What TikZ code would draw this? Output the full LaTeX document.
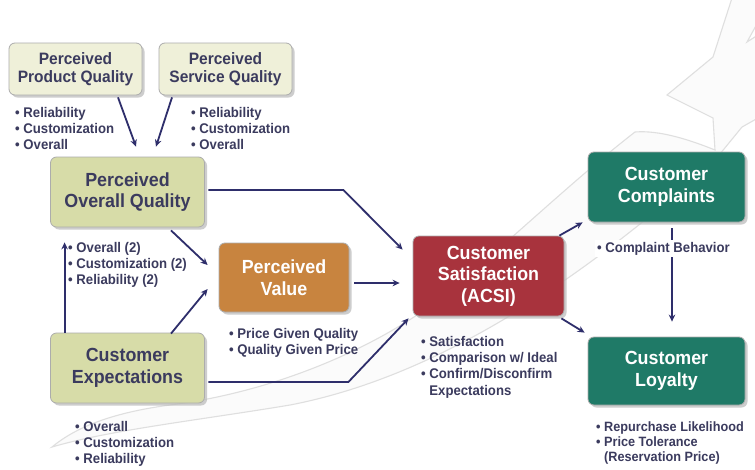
\documentclass[tikz,border=0pt]{standalone}
\usepackage{fontspec}
\setmainfont{Liberation Sans}[FakeStretch=0.94]
\usetikzlibrary{arrows.meta,shadows}
\definecolor{txt}{HTML}{3B3B5E}
\definecolor{arr}{HTML}{2E2E6B}
\definecolor{cream}{HTML}{EFF0D9}
\definecolor{olive}{HTML}{D7DCA8}
\definecolor{orng}{HTML}{C8843F}
\definecolor{redbox}{HTML}{A8333D}
\definecolor{grnbox}{HTML}{1F7A67}
\newcommand{\bl}{\textbullet\ }
\tikzset{
  box/.style={draw=gray!65, line width=0.8pt, rounded corners=6pt, align=center,
    inner sep=2pt, drop shadow={shadow xshift=2.5pt, shadow yshift=-2.5pt, fill=gray!55, opacity=0.7}},
  smallbox/.style={box, fill=cream, text=txt, font=\fontsize{16.5}{18.5}\selectfont\bfseries,
    minimum width=133pt, minimum height=52pt},
  bigbox/.style={box, font=\fontsize{19}{21.5}\selectfont\bfseries, minimum width=154pt, minimum height=70pt},
  lbl/.style={anchor=north west, align=left, inner sep=0pt, text=txt,
    font=\fontsize{14}{16.3}\selectfont\bfseries},
  conn/.style={draw=arr, line width=1.8pt, -{Stealth[length=7pt,width=6.5pt]}},
  bg/.style={fill=gray!3, draw=gray!25, line width=1.1pt}
}
\begin{document}
\begin{tikzpicture}[x=1pt,y=-1pt]
\useasboundingbox (0,0) rectangle (755,469);
\fill[white] (0,0) rectangle (755,469);
% background shooting star
\draw[bg] (635,132) .. controls (560,190) and (470,280) .. (414,317)
  .. controls (340,365) and (250,395) .. (170,405)
  .. controls (110,413) and (75,428) .. (52,447)
  .. controls (110,430) and (200,420) .. (290,405)
  .. controls (420,380) and (560,300) .. (715,160)
  -- (742,127) -- (758,118) -- (758,35) -- (747,42) -- (758,22) -- (758,-2)
  -- (732,-2) -- (713,57) -- (667,95) -- (713,118) -- (715,150)
  .. controls (690,140) and (660,130) .. (635,132);
% boxes
\node[smallbox] (ppq) at (75.5,69) {Perceived\\Product Quality};
\node[smallbox] (psq) at (225.5,69) {Perceived\\Service Quality};
\node[bigbox, fill=olive, text=txt] (poq) at (127.5,192) {Perceived\\Overall Quality};
\node[bigbox, fill=orng, text=white, minimum width=130pt, minimum height=69pt] (pv) at (284,277.5) {Perceived\\Value};
\node[bigbox, fill=olive, text=txt] (ce) at (127.5,368) {Customer\\Expectations};
\node[bigbox, fill=redbox, text=white, minimum width=151pt, minimum height=80pt] (cs) at (488.5,276) {Customer\\Satisfaction\\(ACSI)};
\node[bigbox, fill=grnbox, text=white, minimum width=157pt] (cc) at (666.5,187) {Customer\\Complaints};
\node[bigbox, fill=grnbox, text=white, minimum width=157pt, minimum height=68pt] (cl) at (666.5,371) {Customer\\Loyalty};
% connectors
\draw[conn] ([shift={(42.5pt,-2pt)}]ppq.south) -- ([shift={(8.5pt,10pt)}]poq.north);
\draw[conn] ([shift={(-53.5pt,-2pt)}]psq.south) -- ([shift={(28.5pt,10pt)}]poq.north);
\draw[conn] ([shift={(3.5pt,2pt)}]poq.east) -- ++(135,0) -- ([shift={(-10pt,-14pt)}]cs.north west);
\draw[conn] ([shift={(3.5pt,-14pt)}]ce.east) -- ++(140,0) -- ([shift={(-4pt,-2pt)}]cs.south west);
\draw[conn] ([shift={(5pt,-5.5pt)}]pv.east) -- ([shift={(-13pt,-7pt)}]cs.west);
\draw[conn] ([shift={(43.5pt,-3pt)}]poq.south) -- ([shift={(-11pt,12.5pt)}]pv.west);
\draw[conn] ([shift={(43.5pt,-1pt)}]ce.north) -- ([shift={(-11pt,-11.5pt)}]pv.west);
\draw[conn] ([shift={(14.5pt,0pt)}]ce.north west) -- ([shift={(14.5pt,-15pt)}]poq.south west);
\draw[conn] ([shift={(-5pt,0pt)}]cs.north east) -- ([shift={(-5pt,0pt)}]cc.south west);
\draw[conn] ([shift={(-3pt,-2pt)}]cs.south east) -- ([shift={(-3pt,4pt)}]cl.north west);
\draw[conn] ([shift={(5.5pt,-6pt)}]cc.south) -- ([shift={(5.5pt,15pt)}]cl.north);
% labels
\node[lbl] (lppq) at (15,107) {\bl Reliability\\\bl Customization\\\bl Overall};
\node[lbl] (lpsq) at (191,107) {\bl Reliability\\\bl Customization\\\bl Overall};
\node[lbl] (lpoq) at (68,242) {\bl Overall (2)\\\bl Customization (2)\\\bl Reliability (2)};
\node[lbl] (lpv) at (229,328) {\bl Price Given Quality\\\bl Quality Given Price};
\node[lbl] (lce) at (75,421) {\bl Overall\\\bl Customization\\\bl Reliability};
\node[lbl] (lcs) at (421,336) {\bl Satisfaction\\\bl Comparison w/ Ideal\\\bl Confirm/Disconfirm\\\phantom{\bl}Expectations};
\node[lbl, fill=white, inner sep=2pt] (lcc) at (595,240) {\bl Complaint Behavior};
\node[lbl, font=\fontsize{13.5}{15}\selectfont\bfseries] (lcl) at (596,422) {\bl Repurchase Likelihood\\\bl Price Tolerance\\\phantom{\bl}(Reservation Price)};
\end{tikzpicture}
\end{document}
